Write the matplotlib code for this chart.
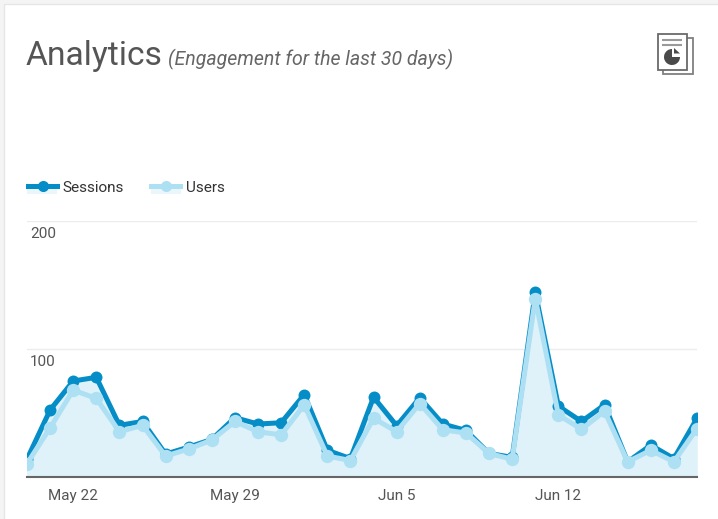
import matplotlib
matplotlib.use("Agg")
import matplotlib.pyplot as plt
from matplotlib.patches import Rectangle, Polygon, Wedge
from matplotlib.lines import Line2D

plt.rcParams['font.family'] = ['Roboto', 'DejaVu Sans']

sessions = [13.5, 52, 74.6, 77.5, 40, 43, 17.5, 23, 29, 46, 41, 42, 64, 20.5, 14,
            62, 39.7, 61.5, 41, 36, 18, 15, 144, 55, 43, 56, 11.5, 24.5, 14, 45.5]
users = [10, 38, 67.5, 61, 35, 40, 16, 21.5, 28.5, 43, 35, 32.5, 56, 16, 12.5,
         45.5, 35, 57, 36.5, 34, 18, 13.5, 139, 48, 37, 51, 11.5, 20.5, 11.5, 37.5]
days = list(range(len(sessions)))
date_ticks = [2, 9, 16, 23]
date_labels = ["May 22", "May 29", "Jun 5", "Jun 12"]
value_ticks = [100, 200]
value_labels = ["100", "200"]

W, H = 718, 519
DARK, LIGHT, FILL = "#058dc7", "#aee0f4", "#dff1f9"
TXT = "#555555"

fig = plt.figure(figsize=(W / 100, H / 100), dpi=100, facecolor="#f4f4f4")

# page layer in pixel coordinates
bg = fig.add_axes([0, 0, 1, 1], zorder=0)
bg.set_xlim(0, W)
bg.set_ylim(H, 0)
bg.axis("off")
bg.add_patch(Rectangle((4, 4), W, H, fc="white", ec="#e6e6e6", lw=1))

# report icon
bg.add_patch(Rectangle((663, 38), 30, 36, fc="white", ec="#808080", lw=1.3))
bg.add_patch(Rectangle((657.5, 33.5), 29, 36, fc="white", ec="#6a6a6a", lw=1.3))
for y in (39.5, 45):
    bg.plot([662, 682], [y, y], color="#9a9a9a", lw=1.5, solid_capstyle="butt")
bg.add_patch(Wedge((672, 57), 8, 0, 270, fc="#4a4a4a", ec="none"))
bg.add_patch(Polygon([(674, 48), (680, 53.5), (674, 53.5)], fc="#4a4a4a", ec="none"))

bg.text(26, 56, "Analytics", fontsize=24.2, color="#555555", va="center", ha="left")
bg.text(168, 59.5, "(Engagement for the last 30 days)", fontsize=14.05, color="#666666",
        style="italic", va="center", ha="left")

# chart
x0, x1, ytop, ybot = 27, 697, 220.5, 476.5
ax = fig.add_axes([x0 / W, 1 - ybot / H, (x1 - x0) / W, (ybot - ytop) / H], zorder=1)
ax.patch.set_alpha(0)
ax.fill_between(days, sessions, color=FILL, lw=0)
ax.fill_between(days, users, color=FILL, lw=0)
ax.plot(days, sessions, color=DARK, lw=3.6, marker="o", ms=8.6, mew=0, label="Sessions", zorder=3)
ax.plot(days, users, color=LIGHT, lw=3.6, marker="o", ms=9.6, mew=0, label="Users", zorder=4)
ax.set_xlim(0, 29)
ax.set_ylim(0, 200)

ax.set_yticks(value_ticks, value_labels)
ax.set_xticks(date_ticks, date_labels)
ax.grid(axis="y", color="#ececec", lw=1)
ax.set_axisbelow(True)
ax.tick_params(axis="y", length=0, pad=-2, labelsize=11, labelcolor=TXT, direction="in")
for lab in ax.get_yticklabels():
    lab.set_ha("left")
    lab.set_va("top")
    lab.set_transform(lab.get_transform() + matplotlib.transforms.ScaledTranslation(0, -7 / 100, fig.dpi_scale_trans))
ax.tick_params(axis="x", length=0, pad=9, labelsize=11, labelcolor=TXT)
for s in ("top", "left", "right"):
    ax.spines[s].set_visible(False)
ax.spines["bottom"].set_color("#666666")
ax.spines["bottom"].set_linewidth(1.5)

handles = [
    Line2D([], [], color=DARK, lw=3.6, marker="o", ms=8, mew=0),
    Line2D([], [], color=LIGHT, lw=3.6, marker="o", ms=8, mew=0),
]
for lx in (27, 151):
    bg.add_patch(Rectangle((lx, 187), 30, 7, fc=FILL, ec="none", alpha=0.6))
fig.legend(handles, ["Sessions", "Users"], loc="center left",
           bbox_to_anchor=(28 / W, 1 - 187.5 / H), ncol=2, frameon=False,
           fontsize=11, labelcolor="#333333", handlelength=1.9, handletextpad=0.35,
           columnspacing=1.8, borderpad=0, borderaxespad=0)

fig.savefig("out.png", dpi=100, facecolor=fig.get_facecolor())
